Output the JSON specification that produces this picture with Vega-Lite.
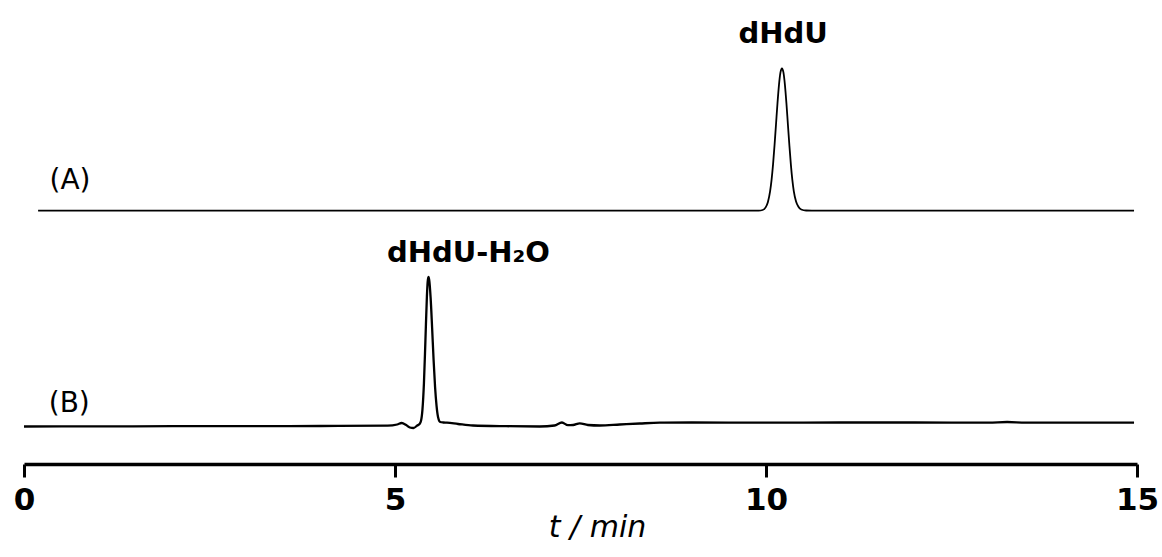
{
  "$schema": "https://vega.github.io/schema/vega-lite/v6.json",
  "width": 1113,
  "height": 464,
  "autosize": "none",
  "padding": {"left": 24, "top": 0, "right": 25, "bottom": 93},
  "background": "white",
  "config": {"view": {"stroke": null}},
  "datasets": {
    "traces": [
      {"trace": "A", "t": 0.19, "v": 253.3}, {"trace": "A", "t": 2, "v": 253.3}, {"trace": "A", "t": 5, "v": 253.3}, {"trace": "A", "t": 8, "v": 253.3},
      {"trace": "A", "t": 9.8, "v": 253.3}, {"trace": "A", "t": 9.9, "v": 253.4}, {"trace": "A", "t": 9.955, "v": 254}, {"trace": "A", "t": 9.995, "v": 256.6},
      {"trace": "A", "t": 10.025, "v": 261.8}, {"trace": "A", "t": 10.055, "v": 272.6}, {"trace": "A", "t": 10.075, "v": 284.1}, {"trace": "A", "t": 10.095, "v": 299.6},
      {"trace": "A", "t": 10.115, "v": 318.7}, {"trace": "A", "t": 10.135, "v": 339.8}, {"trace": "A", "t": 10.155, "v": 361}, {"trace": "A", "t": 10.175, "v": 379.2},
      {"trace": "A", "t": 10.195, "v": 391.6}, {"trace": "A", "t": 10.215, "v": 395.7}, {"trace": "A", "t": 10.235, "v": 391.6}, {"trace": "A", "t": 10.255, "v": 379.2},
      {"trace": "A", "t": 10.275, "v": 361}, {"trace": "A", "t": 10.295, "v": 339.8}, {"trace": "A", "t": 10.315, "v": 318.7}, {"trace": "A", "t": 10.335, "v": 299.6},
      {"trace": "A", "t": 10.355, "v": 284.1}, {"trace": "A", "t": 10.375, "v": 272.6}, {"trace": "A", "t": 10.405, "v": 262.5}, {"trace": "A", "t": 10.435, "v": 257.5},
      {"trace": "A", "t": 10.475, "v": 254.5}, {"trace": "A", "t": 10.54, "v": 253.5}, {"trace": "A", "t": 11, "v": 253.3}, {"trace": "A", "t": 13, "v": 253.3},
      {"trace": "A", "t": 14.96, "v": 253.3},
      {"trace": "B", "t": 0, "v": 37.5}, {"trace": "B", "t": 1, "v": 37.6}, {"trace": "B", "t": 2, "v": 37.8}, {"trace": "B", "t": 3, "v": 37.8},
      {"trace": "B", "t": 4, "v": 38}, {"trace": "B", "t": 4.9, "v": 38.3}, {"trace": "B", "t": 5.03, "v": 39.5}, {"trace": "B", "t": 5.09, "v": 41},
      {"trace": "B", "t": 5.15, "v": 39}, {"trace": "B", "t": 5.2, "v": 36.5}, {"trace": "B", "t": 5.25, "v": 36}, {"trace": "B", "t": 5.3, "v": 38.5},
      {"trace": "B", "t": 5.33, "v": 40}, {"trace": "B", "t": 5.35, "v": 43}, {"trace": "B", "t": 5.37, "v": 54.3}, {"trace": "B", "t": 5.39, "v": 80.8},
      {"trace": "B", "t": 5.41, "v": 123.6}, {"trace": "B", "t": 5.43, "v": 167.8}, {"trace": "B", "t": 5.44, "v": 182}, {"trace": "B", "t": 5.45, "v": 187},
      {"trace": "B", "t": 5.46, "v": 184.6}, {"trace": "B", "t": 5.48, "v": 166.4}, {"trace": "B", "t": 5.5, "v": 136.5}, {"trace": "B", "t": 5.52, "v": 104.3},
      {"trace": "B", "t": 5.54, "v": 77}, {"trace": "B", "t": 5.56, "v": 58.2}, {"trace": "B", "t": 5.58, "v": 47.1}, {"trace": "B", "t": 5.61, "v": 42},
      {"trace": "B", "t": 5.65, "v": 41.5}, {"trace": "B", "t": 5.7, "v": 41.3}, {"trace": "B", "t": 5.85, "v": 40}, {"trace": "B", "t": 6.05, "v": 38.5},
      {"trace": "B", "t": 6.5, "v": 37.8}, {"trace": "B", "t": 6.95, "v": 37.5}, {"trace": "B", "t": 7.15, "v": 38.5}, {"trace": "B", "t": 7.25, "v": 41.5},
      {"trace": "B", "t": 7.33, "v": 38.8}, {"trace": "B", "t": 7.4, "v": 39}, {"trace": "B", "t": 7.49, "v": 40.7}, {"trace": "B", "t": 7.6, "v": 39},
      {"trace": "B", "t": 7.76, "v": 38.5}, {"trace": "B", "t": 8.03, "v": 39.5}, {"trace": "B", "t": 8.3, "v": 40.5}, {"trace": "B", "t": 8.57, "v": 41.3},
      {"trace": "B", "t": 9, "v": 41.5}, {"trace": "B", "t": 10, "v": 41.3}, {"trace": "B", "t": 11, "v": 41.5}, {"trace": "B", "t": 12, "v": 41.5},
      {"trace": "B", "t": 13, "v": 41.3}, {"trace": "B", "t": 13.25, "v": 42}, {"trace": "B", "t": 13.5, "v": 41.3}, {"trace": "B", "t": 14, "v": 41.3},
      {"trace": "B", "t": 14.96, "v": 41.3}
    ],
    "peaks": [
      {"label": "dHdU", "t": 10.23, "v": 421},
      {"label": "dHdU-H₂O", "t": 5.99, "v": 202}
    ],
    "tags": [
      {"label": "(A)", "t": 0.62, "v": 275},
      {"label": "(B)", "t": 0.61, "v": 52}
    ]
  },
  "layer": [
    {
      "data": {"name": "traces"},
      "mark": {"type": "line", "color": "black", "interpolate": "monotone"},
      "encoding": {
        "x": {
          "field": "t", "type": "quantitative",
          "scale": {"domain": [0, 15], "nice": false, "zero": false},
          "axis": {
            "values": [0, 5, 10, 15], "format": "d", "grid": false,
            "domainColor": "black", "domainWidth": 3.5,
            "tickColor": "black", "tickWidth": 3, "tickSize": 13,
            "labelFont": "DejaVu Sans", "labelFontWeight": "bold", "labelFontSize": 31, "labelColor": "black",
            "labelPadding": 8, "labelFlush": false, "labelOverlap": false,
            "title": "t / min", "titleFont": "DejaVu Sans", "titleFontStyle": "italic", "titleFontWeight": "normal",
            "titleFontSize": 30, "titleColor": "black", "titleX": 573, "titleY": 72, "titleBaseline": "alphabetic", "titleAlign": "center"
          }
        },
        "y": {"field": "v", "type": "quantitative", "scale": {"domain": [0, 464], "nice": false, "zero": false}, "axis": null},
        "detail": {"field": "trace"},
        "strokeWidth": {"field": "trace", "type": "nominal", "scale": {"domain": ["A", "B"], "range": [1.8, 2.3]}, "legend": null}
      }
    },
    {
      "data": {"name": "peaks"},
      "mark": {"type": "text", "font": "DejaVu Sans", "fontWeight": "bold", "fontSize": 29, "color": "black", "align": "center", "baseline": "alphabetic"},
      "encoding": {
        "x": {"field": "t", "type": "quantitative"},
        "y": {"field": "v", "type": "quantitative"},
        "text": {"field": "label"}
      }
    },
    {
      "data": {"name": "tags"},
      "mark": {"type": "text", "font": "DejaVu Sans", "fontWeight": "normal", "fontSize": 28, "color": "black", "align": "center", "baseline": "alphabetic"},
      "encoding": {
        "x": {"field": "t", "type": "quantitative"},
        "y": {"field": "v", "type": "quantitative"},
        "text": {"field": "label"}
      }
    }
  ]
}
